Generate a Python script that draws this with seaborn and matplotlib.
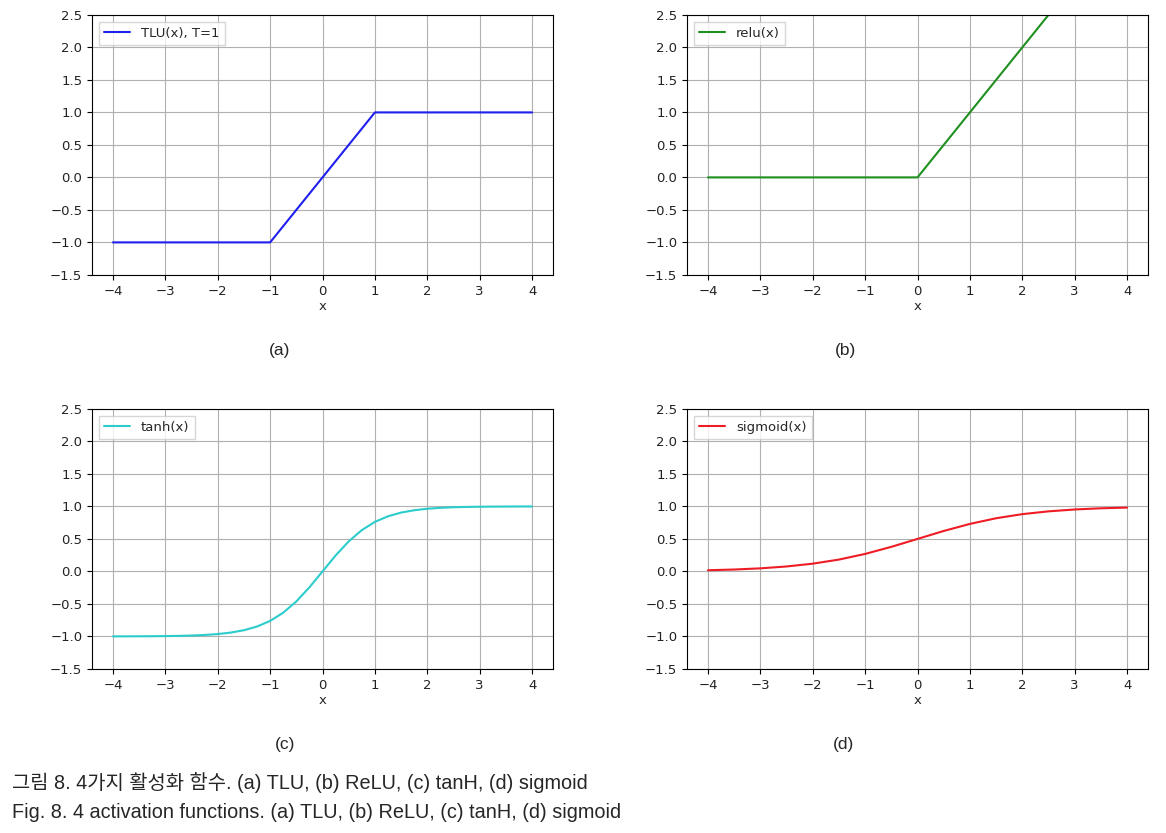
import matplotlib
matplotlib.use('Agg')
import matplotlib.pyplot as plt
import seaborn as sns

# values
tlu_x = [-4, -1, 1, 4]
tlu_y = [-1, -1, 1, 1]

relu_x = [-4, 0, 4]
relu_y = [0, 0, 4]

tanh_x = [-4.0, -3.75, -3.5, -3.25, -3.0, -2.75, -2.5, -2.25, -2.0, -1.75, -1.5, -1.25,
          -1.0, -0.75, -0.5, -0.25, 0.0, 0.25, 0.5, 0.75, 1.0, 1.25, 1.5, 1.75,
          2.0, 2.25, 2.5, 2.75, 3.0, 3.25, 3.5, 3.75, 4.0]
tanh_y = [-0.999, -0.999, -0.998, -0.997, -0.995, -0.992, -0.987, -0.978, -0.964, -0.941, -0.905, -0.848,
          -0.762, -0.635, -0.462, -0.245, 0.0, 0.245, 0.462, 0.635, 0.762, 0.848, 0.905, 0.941,
          0.964, 0.978, 0.987, 0.992, 0.995, 0.997, 0.998, 0.999, 0.999]

sig_x = [-4.0, -3.5, -3.0, -2.5, -2.0, -1.5, -1.0, -0.5, 0.0, 0.5, 1.0, 1.5, 2.0, 2.5, 3.0, 3.5, 4.0]
sig_y = [0.018, 0.029, 0.047, 0.076, 0.119, 0.182, 0.269, 0.378, 0.5, 0.622, 0.731, 0.818,
         0.881, 0.924, 0.953, 0.971, 0.982]

x_ticks = [-4, -3, -2, -1, 0, 1, 2, 3, 4]
y_ticks = [-1.5, -1.0, -0.5, 0.0, 0.5, 1.0, 1.5, 2.0, 2.5]

panel_labels = ['(a)', '(b)', '(c)', '(d)']
caption_ko = '그림 8. 4가지 활성화 함수. (a) TLU, (b) ReLU, (c) tanH, (d) sigmoid'
caption_en = 'Fig. 8. 4 activation functions. (a) TLU, (b) ReLU, (c) tanH, (d) sigmoid'

sns.set_theme(style='ticks')
plt.rcParams['font.family'] = ['DejaVu Sans']

fig = plt.figure(figsize=(11.66, 8.33), dpi=100)

# axes boxes in figure fractions (left, bottom, width, height)
boxes = [(0.0789, 0.670, 0.3954, 0.3121),
         (0.5892, 0.670, 0.3954, 0.3121),
         (0.0789, 0.197, 0.3954, 0.3121),
         (0.5892, 0.197, 0.3954, 0.3121)]
series = [(tlu_x, tlu_y, '#2020ee', 'TLU(x), T=1'),
          (relu_x, relu_y, '#1f8f1f', 'relu(x)'),
          (tanh_x, tanh_y, '#2ccccc', 'tanh(x)'),
          (sig_x, sig_y, '#ee1c24', 'sigmoid(x)')]

for box, (xs, ys, col, lab) in zip(boxes, series):
    ax = fig.add_axes(box)
    sns.lineplot(x=xs, y=ys, color=col, label=lab, linewidth=1.5, ax=ax)
    ax.set_ylim(-1.5, 2.5)
    ax.set_xlim(-4.4, 4.4)
    ax.set_xticks(x_ticks)
    ax.set_yticks(y_ticks)
    ax.grid(True, color='#b0b0b0', linewidth=0.8)
    ax.set_xlabel('x', fontsize=9.5, labelpad=2)
    ax.tick_params(labelsize=9.5, length=3.5, width=0.8, color='black', labelcolor='#222222')
    for sp in ax.spines.values():
        sp.set_color('black')
        sp.set_linewidth(0.8)
    ax.legend(loc='upper left', fontsize=9.5, frameon=True, fancybox=False,
              edgecolor='#cccccc', handlelength=2.0)

cap_font = ['Liberation Sans', 'Noto Sans CJK KR']
label_pos = [(280, 350), (846, 350), (285, 745), (843, 745)]
for (px, py), t in zip(label_pos, panel_labels):
    fig.text(px / 1166, 1 - py / 833, t, ha='center', va='center', fontsize=12.5, family=cap_font)

fig.text(12 / 1166, 1 - 783 / 833, caption_ko, ha='left', va='center', fontsize=14.3, family=cap_font)
fig.text(12 / 1166, 1 - 812 / 833, caption_en, ha='left', va='center', fontsize=14.3, family=cap_font)

fig.savefig('out.png', dpi=100)
